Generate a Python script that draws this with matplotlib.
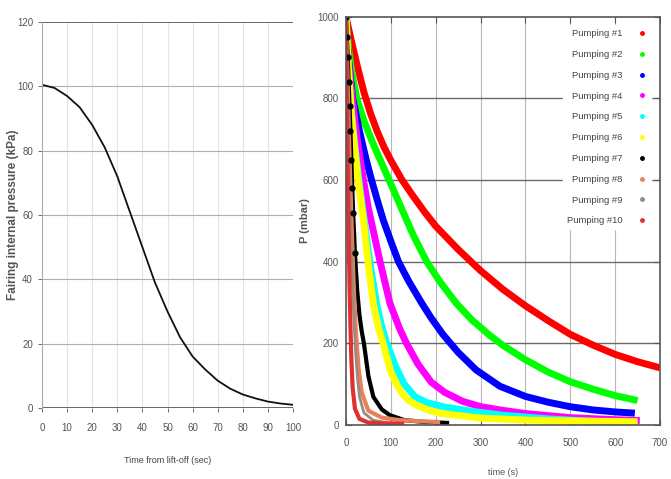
import matplotlib
matplotlib.use("Agg")
from matplotlib import pyplot as plt
from matplotlib.lines import Line2D

plt.rcParams['font.family'] = ['Liberation Sans', 'DejaVu Sans']

# left chart: fairing internal pressure after lift-off
lift_t = [0, 5, 10, 15, 20, 25, 30, 35, 40, 45, 50, 55, 60, 65, 70, 75, 80, 85, 90, 95, 100]
lift_p = [100.5, 99.5, 97, 93.5, 88, 81, 72, 61, 50, 39, 30, 22, 16, 12, 8.5, 6, 4.2, 3, 2, 1.4, 1]

# right chart: pumping runs, time (s) / pressure (mbar)
pump1_t = [0, 10, 25, 40, 55, 70, 85, 100, 125, 150, 175, 200, 250, 300, 350, 400, 450, 500, 550, 600, 650, 700]
pump1_p = [1000, 950, 880, 815, 762, 718, 680, 648, 600, 560, 522, 487, 430, 378, 332, 292, 256, 222, 196, 173, 155, 140]
pump2_t = [0, 5, 12, 24, 40, 60, 80, 100, 120, 150, 180, 210, 246, 280, 320, 350, 400, 450, 500, 550, 600, 650]
pump2_p = [1000, 930, 870, 800, 745, 690, 640, 590, 540, 465, 400, 350, 298, 258, 220, 195, 160, 130, 106, 88, 72, 60]
pump3_t = [0, 5, 15, 30, 45, 57, 70, 83, 100, 117, 140, 168, 190, 216, 250, 290, 343, 400, 450, 499, 550, 600, 644]
pump3_p = [1000, 900, 800, 720, 650, 600, 550, 502, 450, 400, 352, 300, 262, 222, 178, 135, 95, 70, 56, 45, 37, 32, 29]
pump4_t = [0, 5, 12, 25, 39, 50, 57, 76, 98, 120, 135, 160, 190, 220, 260, 300, 343, 400, 500, 600, 655]
pump4_p = [1000, 900, 820, 700, 600, 530, 495, 400, 298, 235, 200, 150, 105, 80, 58, 45, 37, 28, 18, 13, 11]
pump5_t = [0, 5, 12, 20, 30, 42, 53, 68, 80, 91, 110, 130, 154, 180, 220, 284, 350, 450, 550, 650]
pump5_p = [1000, 880, 770, 680, 590, 490, 400, 298, 240, 200, 145, 100, 69, 55, 44, 33, 24, 15, 9, 6]
pump6_t = [0, 5, 12, 20, 27, 39, 49, 61, 72, 83, 100, 115, 127, 140, 160, 185, 210, 260, 300, 400, 500, 650]
pump6_p = [1000, 880, 760, 670, 600, 502, 400, 298, 240, 200, 130, 95, 75, 60, 47, 36, 29, 22, 17, 12, 10, 8]
pump7_t = [0, 2, 4, 6, 8, 10, 12, 14, 16, 20, 25, 30, 35, 40, 50, 61, 80, 98, 130, 170, 230]
pump7_p = [1000, 950, 900, 840, 780, 720, 650, 580, 520, 420, 330, 270, 230, 200, 120, 69, 38, 24, 12, 8, 5]
pump8_t = [0, 3, 6, 9, 12, 15, 18, 22, 28, 35, 50, 80, 120, 170, 210]
pump8_p = [1000, 870, 740, 620, 510, 410, 320, 230, 140, 80, 35, 18, 12, 9, 7]
pump9_t = [0, 3, 6, 9, 12, 15, 18, 22, 26, 30, 40, 60, 90, 120]
pump9_p = [1000, 850, 700, 560, 440, 340, 250, 170, 110, 70, 30, 12, 6, 4]
pump10_t = [0, 2, 4, 6, 8, 10, 12, 15, 20, 30, 50, 80, 130]
pump10_p = [1000, 800, 620, 470, 340, 240, 160, 90, 40, 15, 6, 4, 3]

pump_labels = ['Pumping #%d' % i for i in range(1, 11)]
pump_colors = ['#ff0000', '#00ff00', '#0000ff', '#ff00ff', '#00ffff',
               '#ffff00', '#000000', '#e8805a', '#9a8a80', '#e03030']
pump_series = [(pump1_t, pump1_p), (pump2_t, pump2_p), (pump3_t, pump3_p),
               (pump4_t, pump4_p), (pump5_t, pump5_p), (pump6_t, pump6_p),
               (pump7_t, pump7_p), (pump8_t, pump8_p), (pump9_t, pump9_p),
               (pump10_t, pump10_p)]
pump_widths = [5, 5, 5, 5, 5, 5, 3, 3, 2, 3]

fig = plt.figure(figsize=(6.71, 4.79), dpi=100)
fig.patch.set_facecolor('white')

# ---- left panel
ax1 = fig.add_axes([0.0626, 0.1482, 0.3741, 0.8058])
ax1.plot(lift_t, lift_p, color='#111111', lw=1.3)
ax1.set_xlim(0, 100)
ax1.set_ylim(0, 120)
ax1.set_xticks(range(0, 101, 10))
ax1.set_yticks(range(0, 121, 20))
for v in range(10, 100, 10):
    ax1.axvline(v, color='#e4e4e4', lw=0.8, zorder=0)
for v in range(20, 101, 20):
    ax1.axhline(v, color='#b0b0b0', lw=0.8, zorder=0)
ax1.axhline(120, color='#666666', lw=1.4)
ax1.axhline(0, color='#666666', lw=1.4)
ax1.spines['right'].set_visible(False)
ax1.spines['top'].set_visible(False)
ax1.spines['bottom'].set_visible(False)
ax1.spines['left'].set_color('#aaaaaa')
ax1.tick_params(labelsize=7, colors='#555555', length=3, width=0.6)
ax1.tick_params(axis='x', pad=8)
ax1.set_xlabel('Time from lift-off (sec)', fontsize=6.5, color='#444444')
ax1.xaxis.set_label_coords(0.5, -0.125)
ax1.set_ylabel('Fairing internal pressure (kPa)', fontsize=8.5, color='#555555',
               fontweight='bold')
ax1.yaxis.set_label_coords(-0.09, 0.5)

# ---- right panel
ax2 = fig.add_axes([0.5156, 0.1127, 0.468, 0.8526])
for (t, p), c, w in zip(pump_series, pump_colors, pump_widths):
    ax2.plot(t, p, color=c, lw=w, solid_capstyle='butt', solid_joinstyle='round')
ax2.plot(pump7_t[:10], pump7_p[:10], 'o', color='black', ms=3.5)
ax2.set_xlim(0, 700)
ax2.set_ylim(0, 1000)
ax2.set_xticks(range(0, 701, 100))
ax2.set_yticks(range(0, 1001, 200))
for v in range(100, 700, 100):
    ax2.axvline(v, color='#b8b8b8', lw=0.8, zorder=0)
for v in range(200, 1000, 200):
    ax2.axhline(v, color='#6a6a6a', lw=1.0, zorder=0)
for s in ax2.spines.values():
    s.set_color('#555555')
    s.set_linewidth(1.2)
ax2.tick_params(labelsize=7, colors='#555555', direction='in', length=4,
                right=True, top=True, pad=5)
ax2.tick_params(axis='x', pad=9)
ax2.set_xlabel('time (s)', fontsize=6.5, color='#555555')
ax2.xaxis.set_label_coords(0.5, -0.105)
ax2.set_ylabel('P (mbar)', fontsize=8, color='#555555', fontweight='bold')
ax2.yaxis.set_label_coords(-0.115, 0.5)

handles = [Line2D([], [], ls='none', marker='.', ms=5, color=c) for c in pump_colors]
leg = ax2.legend(handles, pump_labels, loc='upper right', frameon=True, fontsize=6.8,
                 markerfirst=False, labelspacing=1.25, handlelength=1.0,
                 handletextpad=1.6, borderaxespad=0.5, bbox_to_anchor=(0.985, 0.99))
leg.get_frame().set_facecolor('white')
leg.get_frame().set_edgecolor('white')
leg.get_frame().set_alpha(1.0)
for txt in leg.get_texts():
    txt.set_color('#444444')

fig.savefig('out.png', dpi=100, facecolor='white')
